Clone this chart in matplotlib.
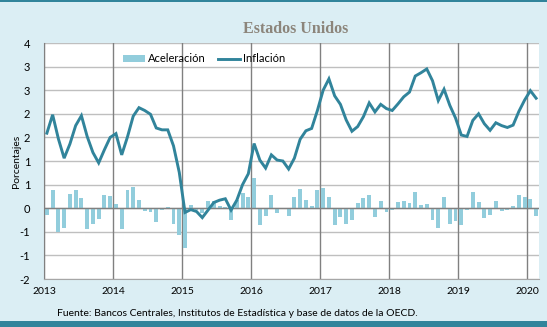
import matplotlib
matplotlib.use("Agg")
import matplotlib.pyplot as plt
import numpy as np
from matplotlib.lines import Line2D
from matplotlib.patches import Patch, Rectangle

# ---- data ----
months = [f"{y}-{m:02d}" for y in range(2013, 2021) for m in range(1, 13)][:86]
inflacion = [
    1.59, 1.98, 1.47, 1.06, 1.36, 1.75, 1.96, 1.52, 1.18, 0.96, 1.24, 1.50,
    1.58, 1.13, 1.51, 1.95, 2.13, 2.07, 1.99, 1.70, 1.66, 1.66, 1.32, 0.76,
    -0.09, -0.03, -0.07, -0.20, -0.04, 0.12, 0.17, 0.20, -0.04, 0.17, 0.50, 0.73,
    1.37, 1.02, 0.85, 1.13, 1.02, 1.00, 0.83, 1.06, 1.46, 1.64, 1.69, 2.07,
    2.50, 2.74, 2.38, 2.20, 1.87, 1.63, 1.73, 1.94, 2.23, 2.04, 2.20, 2.11,
    2.07, 2.21, 2.36, 2.46, 2.80, 2.87, 2.95, 2.70, 2.28, 2.52, 2.18, 1.91,
    1.55, 1.52, 1.86, 2.00, 1.79, 1.65, 1.81, 1.75, 1.71, 1.76, 2.05, 2.29,
    2.49, 2.33,
]
aceleracion = [
    -0.15, 0.39, -0.51, -0.41, 0.30, 0.39, 0.21, -0.44, -0.34, -0.22, 0.28, 0.26,
    0.08, -0.45, 0.38, 0.44, 0.18, -0.06, -0.08, -0.29, -0.04, 0.02, -0.34, -0.56,
    -0.85, 0.06, -0.04, -0.10, 0.16, 0.16, 0.05, 0.03, -0.24, 0.18, 0.33, 0.23,
    0.64, -0.35, -0.17, 0.28, -0.11, -0.02, -0.17, 0.23, 0.40, 0.18, 0.05, 0.38,
    0.43, 0.24, -0.36, -0.18, -0.33, -0.24, 0.10, 0.21, 0.29, -0.19, 0.16, -0.09,
    -0.04, 0.14, 0.15, 0.10, 0.34, 0.07, 0.08, -0.25, -0.42, 0.24, -0.34, -0.27,
    -0.36, -0.03, 0.34, 0.14, -0.21, -0.14, 0.16, -0.06, -0.04, 0.05, 0.29, 0.24,
    0.20, -0.16,
]
year_labels = ["2013", "2014", "2015", "2016", "2017", "2018", "2019", "2020"]
ytick_values = [-1.5, -1.0, -0.5, 0.0, 0.5, 1.0, 1.5, 2.0, 2.5, 3.0, 3.5]
ytick_labels = ["-2", "-1", "-1", "0", "1", "1", "2", "2", "3", "3", "4"]

# ---- style ----
BG = "#DBEEF4"
TEAL = "#31849B"
BAR = "#92CDDC"
FONT = "Lato"

W, H = 547, 327
fig = plt.figure(figsize=(W / 100, H / 100), dpi=100, facecolor=BG)

# decorative bands
fig.patches.append(Rectangle((0, 1 - 2 / H), 1, 2 / H, transform=fig.transFigure,
                             facecolor=TEAL, edgecolor="none"))
fig.patches.append(Rectangle((0, 0), 1, 6 / H, transform=fig.transFigure,
                             facecolor=TEAL, edgecolor="none"))

left, right, top, bottom = 44, 539, 43, 279
ax = fig.add_axes([left / W, 1 - bottom / H, (right - left) / W, (bottom - top) / H])
ax.set_facecolor("white")

x = np.arange(len(months))
ax.bar(x, aceleracion, width=0.68, color=BAR, zorder=2)
ax.plot(x, inflacion, color=TEAL, lw=2.1, zorder=4, solid_joinstyle="miter")

ax.set_xlim(-0.5, len(months) - 0.5)
ax.set_ylim(-1.5, 3.5)

# gridlines
for yv in ytick_values:
    ax.axhline(yv, color="#BFBFBF", lw=1.0, zorder=1)
ax.axhline(0, color="#808080", lw=1.0, zorder=3)
year_pos = [-0.5 + 12 * k for k in range(len(year_labels))]
for xv in year_pos:
    ax.axvline(xv, color="#808080", lw=1.0, zorder=1)

for s in ["top", "right", "bottom", "left"]:
    ax.spines[s].set_visible(False)
ax.spines["left"].set_visible(True)
ax.spines["left"].set_color("#808080")
ax.spines["bottom"].set_visible(True)
ax.spines["bottom"].set_color("#A6A6A6")

ax.set_yticks(ytick_values)
ax.set_yticklabels(ytick_labels, fontsize=8, family=FONT)
ax.set_xticks(year_pos)
ax.set_xticklabels(year_labels, fontsize=7.5, family=FONT)
ax.tick_params(axis="y", length=0, pad=10)
ax.tick_params(axis="x", length=0, pad=6)

ax.set_ylabel("Porcentajes", fontsize=7.5, family=FONT)
ax.yaxis.set_label_coords(-0.046, 0.5)

handles = [Patch(facecolor=BAR, edgecolor="none"),
           Line2D([0], [0], color=TEAL, lw=2.1)]
leg = ax.legend(handles, ["Aceleración", "Inflación"], ncol=2, frameon=False,
                loc="center left", bbox_to_anchor=((123 - left) / (right - left), (bottom - 59) / (bottom - top)),
                borderpad=0, borderaxespad=0, handlelength=2.0, handleheight=0.6,
                handletextpad=0.25, columnspacing=1.1,
                prop={"family": FONT, "size": 8})

fig.text(296 / W, 1 - 29 / H, "Estados Unidos", ha="center", va="center",
         fontsize=11.5, fontweight="bold", family="Liberation Serif", color="#8C857B")
fig.text(237 / W, 1 - 313 / H,
         "Fuente: Bancos Centrales, Institutos de Estadística y base de datos de la OECD.",
         ha="center", va="center", fontsize=7.5, family=FONT, color="black")

fig.savefig("out.png", dpi=100, facecolor=BG)
